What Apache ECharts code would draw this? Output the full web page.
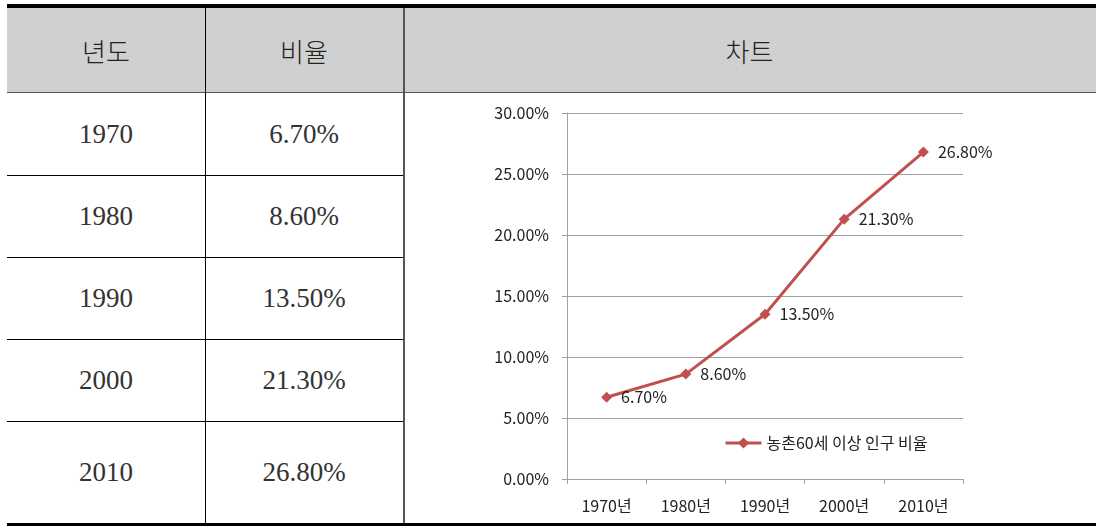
<!DOCTYPE html>
<html>
<head>
<meta charset="utf-8">
<script src="https://cdn.jsdelivr.net/npm/echarts@6/dist/echarts.min.js"></script>
<style>
  html, body { margin: 0; padding: 0; background: #fff; }
  #page { position: relative; width: 1096px; height: 527px; overflow: hidden; }
  .ln { position: absolute; }
  .cell {
    position: absolute; display: flex; align-items: center; justify-content: center;
    font-family: "Liberation Serif", "Noto Sans CJK KR", serif; font-size: 27px; color: #333;
  }
  .head { font-family: "Noto Sans CJK KR", sans-serif; font-size: 26px; font-weight: 300; color: #222; }
  #chart { position: absolute; left: 405px; top: 94px; width: 691px; height: 429px; }
</style>
</head>
<body>
<div id="page">
  <div id="chart"></div>
</div>
<script>
// data
const years = ['1970', '1980', '1990', '2000', '2010']
const ratios = [6.7, 8.6, 13.5, 21.3, 26.8]
const categories = years.map(y => y + '년')
const headers = ['년도', '비율', '차트']
const seriesName = '농촌60세 이상 인구 비율'

const page = document.getElementById('page')
const fmt = v => v.toFixed(2) + '%'

// table layout
const colX = [7, 205, 403, 1096]
const rowY = [93, 175, 257, 339, 421, 524]

const addLine = (x, y, w, h, color) => {
  const d = document.createElement('div')
  d.className = 'ln'
  d.style.cssText = `left:${x}px;top:${y}px;width:${w}px;height:${h}px;background:${color}`
  page.appendChild(d)
}
const addCell = (x0, x1, y0, y1, text, cls) => {
  const d = document.createElement('div')
  d.className = 'cell' + (cls ? ' ' + cls : '')
  d.style.cssText = `left:${x0}px;top:${y0}px;width:${x1 - x0}px;height:${y1 - y0}px`
  d.textContent = text
  page.appendChild(d)
}

// header background + borders
addLine(7, 8, 1089, 85, '#d0d0d0')
addLine(7, 4, 1089, 4, '#000')
addLine(7, 92, 1089, 1, '#555')
addLine(205, 8, 1, 516, '#000')
addLine(403, 8, 2, 516, '#555')
for (let i = 1; i < rowY.length - 1; i++) addLine(7, rowY[i], 396, 1, '#000')
addLine(7, 523, 1089, 3, '#000')

headers.forEach((h, i) => addCell(colX[i], colX[i + 1], 8, 92, h, 'head'))
years.forEach((y, i) => {
  addCell(colX[0], colX[1], rowY[i], rowY[i + 1], y)
  addCell(colX[1], colX[2], rowY[i], rowY[i + 1], fmt(ratios[i]))
})

// chart
const chart = echarts.init(document.getElementById('chart'))
const red = '#c0504d'
const font = '"Noto Sans CJK KR", sans-serif'

chart.setOption({
  animation: false,
  textStyle: { fontFamily: font },
  grid: { left: 162, right: 133, top: 19, bottom: 44 },
  legend: {
    left: 314, top: 336,
    itemWidth: 36, itemHeight: 14, itemGap: 6,
    lineStyle: { width: 3, color: red },
    textStyle: { fontSize: 16, color: '#222', fontFamily: font },
    data: [seriesName]
  },
  xAxis: {
    type: 'category',
    data: categories,
    boundaryGap: true,
    axisLine: { lineStyle: { color: '#a0a0a0', width: 1 } },
    axisTick: { show: true, length: 5, lineStyle: { color: '#a0a0a0' } },
    axisLabel: { color: '#222', fontSize: 16, margin: 19, fontFamily: font }
  },
  yAxis: {
    type: 'value',
    min: 0, max: 30, interval: 5,
    axisLine: { show: true, lineStyle: { color: '#a0a0a0', width: 1 } },
    axisTick: { show: true, length: 5, lineStyle: { color: '#a0a0a0' } },
    splitLine: { lineStyle: { color: '#a0a0a0', width: 1 } },
    axisLabel: { color: '#222', fontSize: 16, margin: 18, fontFamily: font, formatter: fmt }
  },
  series: [{
    name: seriesName,
    type: 'line',
    data: ratios,
    symbol: 'diamond',
    symbolSize: 11,
    lineStyle: { color: red, width: 3 },
    itemStyle: { color: red },
    label: {
      show: true, position: 'right', distance: 9,
      color: '#222', fontSize: 16, fontFamily: font,
      formatter: p => fmt(p.value)
    }
  }]
})
</script>
</body>
</html>
